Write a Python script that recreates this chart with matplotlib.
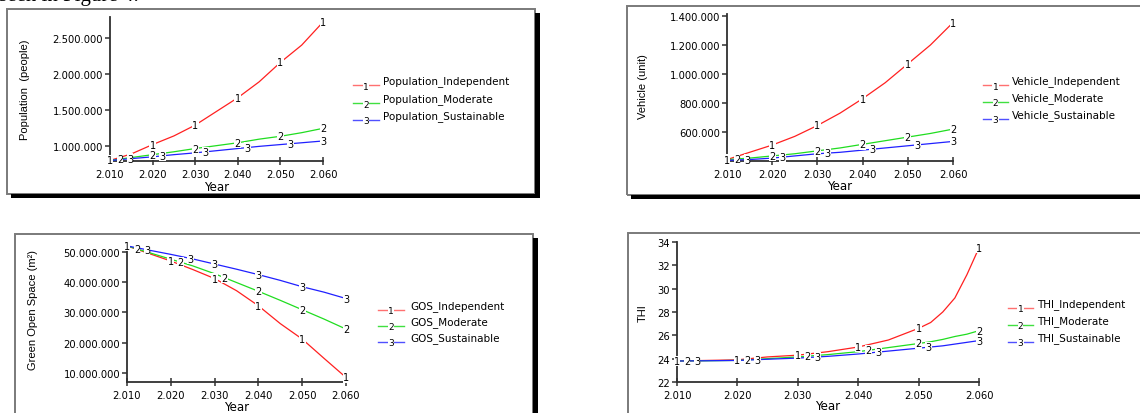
import numpy as np
import matplotlib
matplotlib.use("Agg")
import matplotlib.pyplot as plt
from matplotlib.lines import Line2D
from matplotlib.patches import Rectangle
from matplotlib.ticker import FixedLocator, FuncFormatter

W, H = 1140, 414

# data (every 5 years)
years = [2010, 2015, 2020, 2025, 2030, 2035, 2040, 2045, 2050, 2055, 2060]
label_years = [2010, 2020, 2030, 2040, 2050, 2060]

pop_independent = [800000, 890000, 1020000, 1140000, 1290000, 1480000, 1670000, 1890000, 2160000, 2400000, 2720000]
pop_moderate = [800000, 840000, 880000, 920000, 965000, 1005000, 1045000, 1095000, 1135000, 1185000, 1245000]
pop_sustainable = [800000, 825000, 850000, 880000, 905000, 935000, 965000, 995000, 1020000, 1045000, 1070000]

veh_independent = [410000, 460000, 510000, 570000, 645000, 730000, 830000, 940000, 1070000, 1200000, 1355000]
veh_moderate = [410000, 420000, 435000, 450000, 470000, 490000, 515000, 540000, 565000, 590000, 620000]
veh_sustainable = [405000, 410000, 420000, 435000, 450000, 460000, 475000, 490000, 505000, 520000, 535000]

gos_independent = [52000000, 49500000, 47000000, 44200000, 41200000, 37200000, 32200000, 26300000, 21200000, 14800000, 8500000]
gos_moderate = [52000000, 49800000, 47600000, 45400000, 42800000, 39900000, 37000000, 34000000, 30900000, 27800000, 24500000]
gos_sustainable = [52000000, 50600000, 49200000, 47700000, 46000000, 44300000, 42500000, 40600000, 38500000, 36700000, 34600000]

thi_years = [2010, 2015, 2020, 2025, 2030, 2035, 2040, 2045, 2050, 2052, 2054, 2056, 2058, 2060]
thi_independent = [23.8, 23.85, 23.9, 24.15, 24.3, 24.6, 25.0, 25.6, 26.6, 27.1, 28.0, 29.2, 31.2, 33.5]
thi_moderate = [23.8, 23.82, 23.85, 24.0, 24.15, 24.35, 24.6, 24.95, 25.3, 25.45, 25.65, 25.9, 26.1, 26.4]
thi_sustainable = [23.8, 23.82, 23.85, 23.95, 24.05, 24.2, 24.4, 24.65, 24.9, 25.0, 25.1, 25.25, 25.4, 25.55]

colors = ["#ff2020", "#20dd20", "#2020ff"]
legend_colors = ["#ff7070", "#40e040", "#5050ff"]
axis_color = "#303030"
tick_font = "DejaVu Sans"


def fx(x):
    return x / W


def fy(y):
    return 1 - y / H


def dotted(v, pos=None):
    return f"{int(round(v)):,}".replace(",", ".")


def number_labels(ax, x, series):
    """Stella-style 1/2/3 markers, shifted right when they would overlap"""
    x0, x1 = ax.get_xlim()
    bbox = ax.get_window_extent()
    step = 10 * (x1 - x0) / bbox.width
    placed = {}
    for i, ys in enumerate(series):
        for yr in label_years:
            y_here = np.interp(yr, x, ys)
            py = ax.transData.transform((yr, y_here))[1]
            k = 0
            while any(kk == k and abs(py - pp) < 9 for kk, pp in placed.get(yr, [])):
                k += 1
            placed.setdefault(yr, []).append((k, py))
            direction = -1 if yr == label_years[-1] else 1
            xs = yr + direction * k * step
            ax.text(xs, np.interp(xs, x, ys), str(i + 1), fontsize=7, family=tick_font,
                    ha="center", va="center", zorder=5, clip_on=False,
                    bbox=dict(fc="white", ec="none", pad=0.2))


def frame(fig, l, t, r, b, right_shadow=True):
    fig.add_artist(Rectangle((fx(l), fy(b)), fx(r - l), (b - t) / H, transform=fig.transFigure,
                             fill=False, ec="#7a7a7a", lw=1.4))
    if right_shadow:
        fig.add_artist(Rectangle((fx(r), fy(b + 4)), fx(5), (b + 4 - t - 4) / H,
                                 transform=fig.transFigure, fc="black", ec="none"))
    fig.add_artist(Rectangle((fx(l + 4), fy(b + 4)), fx(r - l + (5 if right_shadow else 0) - 4), 4 / H,
                             transform=fig.transFigure, fc="black", ec="none"))


def legend(fig, x1, x2, xt, rows, names):
    for i, (y, name) in enumerate(zip(rows, names)):
        fig.add_artist(Line2D([fx(x1), fx(x2)], [fy(y + 4), fy(y + 4)], transform=fig.transFigure,
                              color=legend_colors[i], lw=1.0))
        fig.text(fx((x1 + x2) / 2), fy(y + 5), str(i + 1), fontsize=6.5, family=tick_font,
                 ha="center", va="center", bbox=dict(fc="white", ec="none", pad=0.1))
        fig.text(fx(xt), fy(y), name, fontsize=7.5, family=tick_font, ha="left", va="center")


def panel(fig, box, x, series, ylim, yticks, ylabel, ylabel_xy, xlabel_y):
    l, t, r, b = box
    ax = fig.add_axes([fx(l), fy(b), fx(r - l), (b - t) / H])
    for ys, c in zip(series, colors):
        ax.plot(x, ys, color=c, lw=0.9, zorder=3)
    ax.set_xlim(2010, 2060)
    ax.set_ylim(*ylim)
    ax.xaxis.set_major_locator(FixedLocator(label_years))
    ax.yaxis.set_major_locator(FixedLocator(yticks))
    ax.xaxis.set_major_formatter(FuncFormatter(dotted))
    ax.yaxis.set_major_formatter(FuncFormatter(dotted))
    for side in ["top", "right"]:
        ax.spines[side].set_visible(False)
    for side in ["left", "bottom"]:
        ax.spines[side].set_color(axis_color)
        ax.spines[side].set_linewidth(1.3)
    ax.tick_params(axis="x", direction="inout", length=6, width=1.1, color=axis_color, pad=2.5)
    ax.tick_params(axis="y", direction="out", length=3.5, width=1.1, color=axis_color, pad=1.5)
    for lab in ax.get_xticklabels() + ax.get_yticklabels():
        lab.set_fontfamily(tick_font)
        lab.set_fontsize(7.2)
    ax.patch.set_alpha(0)
    number_labels(ax, x, series)
    fig.text(fx(ylabel_xy[0]), fy(ylabel_xy[1]), ylabel, rotation=90, ha="center", va="center",
             fontsize=8, family=["Liberation Sans Narrow", "Liberation Sans"])
    fig.text(fx((l + r) / 2), fy(xlabel_y), "Year", ha="center", va="center",
             fontsize=8.5, family=tick_font)
    return ax


fig = plt.figure(figsize=(W / 100, H / 100), dpi=100)

# clipped caption line from the page above the figure
fig.text(fx(-1), fy(1.5), "seen in Figure 4.", family="Liberation Serif", fontsize=15, va="baseline")

frame(fig, 7, 10, 535, 195)
frame(fig, 627, 7, 1145, 196, right_shadow=False)
frame(fig, 15, 235, 533, 420)
frame(fig, 628, 234, 1145, 420, right_shadow=False)

panel(fig, (110, 18, 323, 162), years, [pop_independent, pop_moderate, pop_sustainable],
      (792000, 2790000), [1000000, 1500000, 2000000, 2500000],
      "Population  (people)", (25, 90), 188)
legend(fig, 353, 379, 383, [82, 100, 117],
       ["Population_Independent", "Population_Moderate", "Population_Sustainable"])

panel(fig, (727, 15, 953, 162), years, [veh_independent, veh_moderate, veh_sustainable],
      (400000, 1414000), [600000, 800000, 1000000, 1200000, 1400000],
      "Vehicle (unit)", (643, 87), 187)
legend(fig, 983, 1008, 1012, [82, 99, 116],
       ["Vehicle_Independent", "Vehicle_Moderate", "Vehicle_Sustainable"])

panel(fig, (127, 246, 346, 383), years, [gos_independent, gos_moderate, gos_sustainable],
      (7000000, 52300000), [10000000, 20000000, 30000000, 40000000, 50000000],
      "Green Open Space (m\u00b2)", (33, 310), 408)
legend(fig, 378, 404, 410, [307, 323, 339],
       ["GOS_Independent", "GOS_Moderate", "GOS_Sustainable"])

panel(fig, (677, 243, 979, 383), thi_years, [thi_independent, thi_moderate, thi_sustainable],
      (22, 34), [22, 24, 26, 28, 30, 32, 34],
      "THI", (643, 313), 407)
legend(fig, 1008, 1033, 1037, [305, 322, 339],
       ["THI_Independent", "THI_Moderate", "THI_Sustainable"])

fig.savefig("out.png", dpi=100)
